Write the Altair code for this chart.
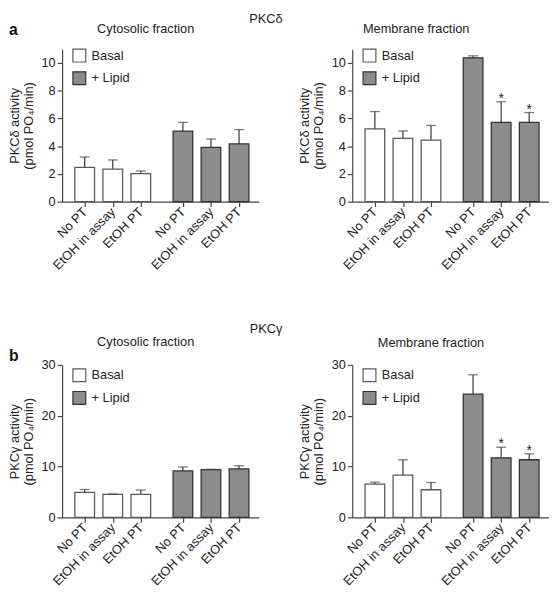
import altair as alt
import pandas as pd

# ---------------- data ----------------
conditions = ["No PT", "EtOH in assay", "EtOH PT"]
treatments = ["Basal", "+ Lipid"]

# PKC-delta
delta_cyto_mean = [2.47, 2.35, 2.02, 5.08, 3.91, 4.16]
delta_cyto_sem = [0.75, 0.66, 0.19, 0.64, 0.61, 1.04]
delta_memb_mean = [5.25, 4.56, 4.44, 10.38, 5.72, 5.72]
delta_memb_sem = [1.25, 0.54, 1.06, 0.14, 1.49, 0.71]
# PKC-gamma
gamma_cyto_mean = [4.93, 4.54, 4.54, 9.14, 9.40, 9.53]
gamma_cyto_sem = [0.57, 0.06, 0.84, 0.78, 0.06, 0.64]
gamma_memb_mean = [6.55, 8.30, 5.44, 24.24, 11.73, 11.34]
gamma_memb_sem = [0.38, 3.04, 1.43, 3.82, 2.07, 1.16]

no_sig = [False, False, False, False, False, False]
memb_sig = [False, False, False, False, True, True]

delta_ticks = [0, 2, 4, 6, 8, 10]
delta_max = 11
gamma_ticks = [0, 10, 20, 30]
gamma_max = 30

delta_title = ["PKCδ activity", "(pmol PO₄/min)"]
gamma_title = ["PKCγ activity", "(pmol PO₄/min)"]
panel_titles = ["Cytosolic fraction", "Membrane fraction"]
row_titles = ["PKCδ", "PKCγ"]
panel_letters = ["a", "b"]

# ---------------- style ----------------
FONT = "Liberation Sans"
INK = "#222222"
LINE = "#444444"
GRAY = "#8c8c8c"

positions = [i + 3.5 * g for g in range(2) for i in range(3)]
label_expr = " : ".join(
    f"datum.value == {p} ? '{conditions[k % 3]}'" for k, p in enumerate(positions)
) + " : ''"


def make_df(means, sems, sig):
    rows = []
    for k, (m, s) in enumerate(zip(means, sems)):
        rows.append(
            dict(
                pos=positions[k],
                condition=conditions[k % 3],
                treatment=treatments[k // 3],
                mean=m,
                top=m + s,
                sig=sig[k],
            )
        )
    return pd.DataFrame(rows)


def panel(means, sems, sig, ymax, yticks, ytitle, title, title_dx, title_offset,
          legend_y, letter=None, letter_y=0):
    df = make_df(means, sems, sig)
    base = alt.Chart(df)
    xenc = alt.X(
        "pos:Q",
        scale=alt.Scale(domain=[-0.63, 6.03], nice=False, zero=False),
        axis=alt.Axis(
            values=positions, labelExpr=label_expr, labelAngle=-45,
            labelAlign="right", labelBaseline="middle", labelOverlap=False,
            labelFlush=False, labelPadding=3, tickSize=5, title=None, grid=False,
            domainColor=LINE, tickColor=LINE, labelFontSize=13, labelColor=INK,
            labelFont=FONT,
        ),
    )
    yscale = alt.Scale(domain=[0, ymax], nice=False, zero=True)
    yaxis = alt.Axis(
        values=yticks, title=ytitle, grid=False, tickSize=5, labelPadding=2,
        domainColor=LINE, tickColor=LINE, labelFontSize=13, labelColor=INK,
        labelFont=FONT, titleFont=FONT, titleFontSize=13, titleFontWeight="normal",
        titleColor=INK, titlePadding=6, titleLineHeight=14,
    )
    bars = base.mark_bar(size=20, strokeWidth=1.3).encode(
        x=xenc,
        y=alt.Y("mean:Q", scale=yscale, axis=yaxis),
        fill=alt.Fill(
            "treatment:N",
            scale=alt.Scale(domain=treatments, range=["#ffffff", GRAY]),
            legend=alt.Legend(
                title=None, orient="none", legendX=10, legendY=legend_y,
                symbolType="square", symbolSize=170, symbolStrokeColor="#4a4a4a",
                symbolStrokeWidth=1.2, labelFontSize=13, labelFont=FONT,
                labelColor=INK, labelOffset=5, rowPadding=4, padding=0,
            ),
        ),
        stroke=alt.Stroke(
            "treatment:N",
            scale=alt.Scale(domain=treatments, range=["#5a5a5a", "#333333"]),
            legend=None,
        ),
    )
    err = base.mark_rule(color=LINE, strokeWidth=1.3).encode(
        x=xenc, y=alt.Y("mean:Q", scale=yscale, axis=yaxis), y2="top:Q"
    )
    cap = base.mark_tick(orient="horizontal", size=10, thickness=1.3, color=LINE).encode(
        x=xenc, y=alt.Y("top:Q", scale=yscale, axis=yaxis)
    )
    stars = base.transform_filter("datum.sig").mark_text(
        text="*", fontSize=14, font=FONT, baseline="alphabetic", dy=1, color=INK
    ).encode(x=xenc, y=alt.Y("top:Q", scale=yscale, axis=yaxis))
    layers = [err, bars, cap, stars]
    if letter is not None:
        lt = alt.Chart(pd.DataFrame({"t": [letter]})).mark_text(
            font=FONT, fontSize=16, fontWeight="bold", align="left",
            baseline="alphabetic", color="#111111",
        ).encode(text="t:N", x=alt.value(-54), y=alt.value(letter_y))
        layers.append(lt)
    return alt.layer(*layers).properties(
        width=200,
        height=155,
        title=alt.TitleParams(
            title, frame="group", anchor="middle", dx=title_dx, offset=title_offset,
            fontSize=13, fontWeight="normal", font=FONT, color=INK,
        ),
    )


pa1 = panel(delta_cyto_mean, delta_cyto_sem, no_sig, delta_max, delta_ticks,
            delta_title, panel_titles[0], -15, -13.5, -1, panel_letters[0], -14)
pa2 = panel(delta_memb_mean, delta_memb_sem, memb_sig, delta_max, delta_ticks,
            delta_title, panel_titles[1], -35, 12.5, -1)
pb1 = panel(gamma_cyto_mean, gamma_cyto_sem, no_sig, gamma_max, gamma_ticks,
            gamma_title, panel_titles[0], -15, -0.5, 3, panel_letters[1], -4)
pb2 = panel(gamma_memb_mean, gamma_memb_sem, memb_sig, gamma_max, gamma_ticks,
            gamma_title, panel_titles[1], -20, 9.5, 3)


def row(p1, p2, t, off):
    return alt.hconcat(
        p1, p2, spacing=40,
        title=alt.TitleParams(t, anchor="middle", dx=-13, offset=off, fontSize=13,
                              fontWeight="normal", font=FONT, color=INK),
    ).resolve_scale(y="independent", fill="independent", stroke="independent").resolve_legend(
        fill="independent"
    )


chart = (
    alt.vconcat(row(pa1, pa2, row_titles[0], -3), row(pb1, pb2, row_titles[1], 0), spacing=51)
    .resolve_scale(y="independent", fill="independent", stroke="independent")
    .resolve_legend(fill="independent")
    .properties(padding={"left": 0, "top": 0, "right": 0, "bottom": 0}, background="white")
    .configure_view(strokeWidth=0)
    .configure_axis(domainWidth=1.2, tickWidth=1.2, labelFontSize=13, titleFontSize=13,
                    labelFont=FONT, titleFont=FONT)
)

chart.save("out.html", embed_options={"renderer": "svg", "actions": False})
